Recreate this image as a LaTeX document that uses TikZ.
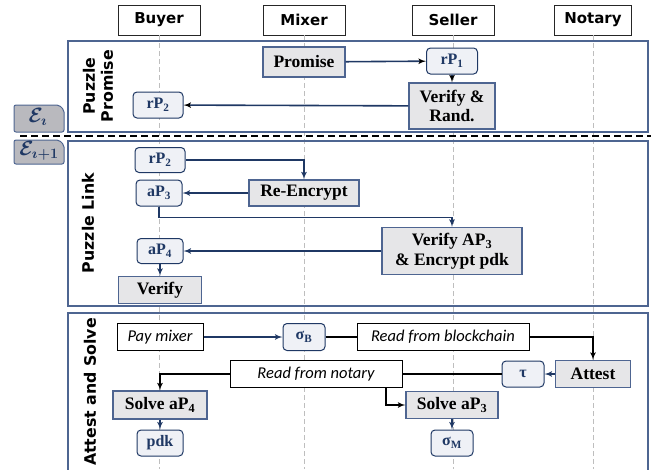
\documentclass[tikz,border=0pt]{standalone}
\usepackage{fontspec}
\setmainfont{Liberation Serif}
\newfontfamily\headfont{DejaVu Sans}
\newfontfamily\notefont{Carlito}
\usetikzlibrary{arrows,positioning}
\definecolor{navy}{HTML}{1F3864}
\definecolor{frame}{HTML}{4E6591}
\definecolor{boxgray}{HTML}{E6E6E8}
\definecolor{tokfill}{HTML}{EFF1F6}
\definecolor{taggray}{HTML}{B9B9BE}
\definecolor{lifegray}{HTML}{BEBEBE}

\begin{document}
\begin{tikzpicture}[x=1pt,y=-1pt,>=latex',semithick]
  \tikzstyle{actor}=[draw=black!85,fill=white,line width=0.8pt,minimum width=82,minimum height=30,
                     font=\headfont\bfseries\fontsize{15}{17}\selectfont]
  \tikzstyle{op}=[draw=frame,fill=boxgray,line width=1.2pt,inner sep=1pt,align=center,
                  font=\bfseries\fontsize{17.5}{19}\selectfont]
  \tikzstyle{token}=[draw=navy,fill=tokfill,rounded corners=4pt,line width=1pt,inner sep=1pt,
                     text=navy,font=\bfseries\fontsize{16}{17}\selectfont]
  \tikzstyle{note}=[draw=black,fill=white,line width=1pt,inner sep=1pt,
                    font=\notefont\itshape\fontsize{16.5}{18}\selectfont]
  \tikzstyle{msg}=[->,draw=navy,line width=1.6pt]
  \tikzstyle{read}=[draw=black,line width=1.6pt]
  \tikzstyle{phase}=[draw=frame,line width=1.5pt]
  \tikzstyle{phasename}=[rotate=90,align=center,font=\headfont\bfseries\fontsize{15.8}{18}\selectfont]
  \tikzstyle{life}=[draw=lifegray,line width=0.7pt,dash pattern=on 5pt off 3pt]
  \tikzstyle{epoch}=[draw=frame,fill=taggray,line width=1pt,rounded corners=2pt]
  \tikzstyle{epochname}=[text=navy,font=\boldmath\fontsize{21}{21}\selectfont]

  \useasboundingbox (0,0) rectangle (651,469);

  \node[actor] (buyer)  at (159,20) {Buyer};
  \node[actor] (mixer)  at (304,20) {Mixer};
  \node[actor] (seller) at (453,20) {Seller};
  \node[actor,minimum width=77] (notary) at (593,20) {Notary};

  \foreach \who in {buyer,mixer,seller,notary}
    \draw[life] (\who.south) -- (\who.south |- 0,469);

  \draw[phase] (68,41) rectangle (648,132);
  \draw[phase] (68,141) rectangle (648,306);
  \draw[phase] (68,313) rectangle (648,480);

  \draw[black,line width=2.2pt,dash pattern=on 7pt off 4pt] (20,136) -- (651,136);

  \draw[epoch] (14,132) -- (14,105) -- (59,105) -- (64,110) -- (64,132) -- cycle;
  \draw[epoch] (14,164) -- (14,140) -- (59,140) -- (64,145) -- (64,164) -- cycle;
  \node[epochname] (ei) at (38,117) {$\mathcal{E}_{\imath}$};
  \node[epochname] (ej) at (39,151) {$\mathcal{E}_{\imath+1}$};

  \node[phasename] (promiselbl) at (98,86) {Puzzle\\Promise};
  \node[phasename] (linklbl)    at (88,223) {Puzzle Link};
  \node[phasename] (solvelbl)   at (90,392) {Attest and Solve};

  \node[op,minimum width=82,minimum height=30] (promise) at (304,62) {Promise};
  \node[token,minimum width=51,minimum height=26] (rp1) at (452,61) {rP\textsubscript{1}};
  \node[op,minimum width=86,minimum height=46,font=\bfseries\fontsize{17.5}{18.5}\selectfont] (vrand) at (452,106) {Verify \&\\Rand.};
  \node[token,minimum width=50,minimum height=26] (rp2a) at (158,105) {rP\textsubscript{2}};

  \path[msg] (promise) edge (rp1)
             (rp1) edge (vrand)
             (vrand) edge (rp2a);

  \node[token,minimum width=50,minimum height=25] (rp2b) at (160,160) {rP\textsubscript{2}};
  \node[op,minimum width=110,minimum height=26] (reenc) at (304,193) {Re-Encrypt};
  \node[token,minimum width=46,minimum height=26] (ap3) at (159,193) {aP\textsubscript{3}};
  \node[op,minimum width=140,minimum height=47,font=\bfseries\fontsize{17.5}{19.5}\selectfont] (vap3) at (452,251)
       {Verify AP\textsubscript{3}\\ \& Encrypt pdk};
  \node[token,minimum width=46,minimum height=25] (ap4) at (160,251) {aP\textsubscript{4}};
  \node[op,minimum width=83,minimum height=27] (verify) at (160,290) {Verify};

  \draw[msg] (rp2b.east) -| (reenc.north);
  \draw[msg] (reenc) -- (ap3);
  \draw[msg] (ap3.south) -- ++(0,11) -| (vap3.north);
  \draw[msg] (vap3) -- (ap4);
  \draw[msg] (ap4) -- (verify);

  \node[note,minimum width=86,minimum height=27] (pay) at (160,337) {Pay mixer};
  \node[token,minimum width=42,minimum height=27] (sigb) at (304,337) {σ\textsubscript{B}};
  \node[note,minimum width=172,minimum height=27] (chain) at (443,337) {Read from blockchain};
  \node[op,minimum width=75,minimum height=27] (attest) at (593,374) {Attest};
  \node[token,minimum width=42,minimum height=26] (tau) at (523,374) {τ};
  \node[note,minimum width=172,minimum height=27] (rnotary) at (316,374) {Read from notary};
  \node[op,minimum width=94,minimum height=28] (solve4) at (160,405) {Solve aP\textsubscript{4}};
  \node[op,minimum width=92,minimum height=27] (solve3) at (452,405) {Solve aP\textsubscript{3}};
  \node[token,minimum width=46,minimum height=26] (pdk) at (160,443) {pdk};
  \node[token,minimum width=42,minimum height=26] (sigm) at (452,443) {σ\textsubscript{M}};

  \draw[msg] (pay) -- (sigb);
  \draw[read] (sigb) -- (chain);
  \draw[read,->] (chain.east) -| (attest.north);
  \draw[msg] (attest) -- (tau);
  \draw[read] (tau) -- (rnotary);
  \draw[read,->] (rnotary.west) -| (solve4.north);
  \draw[read,->] ([xshift=70pt]rnotary.south) |- (solve3.west);
  \draw[msg] (solve4) -- (pdk);
  \draw[msg] (solve3) -- (sigm);
\end{tikzpicture}
\end{document}
